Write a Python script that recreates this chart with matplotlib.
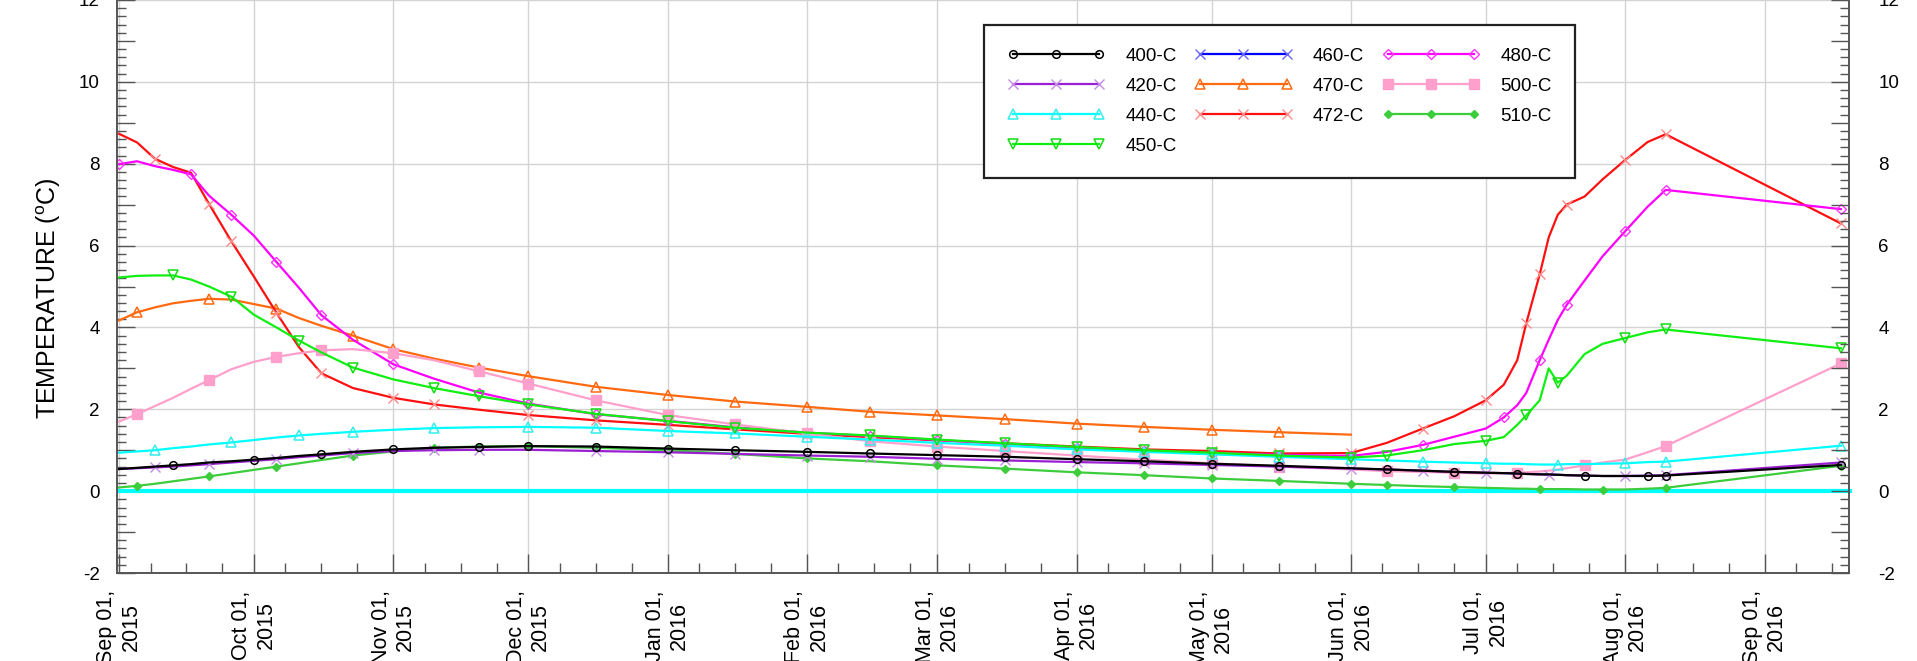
import matplotlib
matplotlib.use('Agg')
import matplotlib.pyplot as plt
import matplotlib.dates as mdates
from matplotlib.ticker import MultipleLocator, FuncFormatter
from matplotlib.lines import Line2D
import numpy as np

plt.rcParams['font.family'] = ['Liberation Sans', 'DejaVu Sans']
plt.rcParams['mathtext.default'] = 'regular'

nan = np.nan

dates = ['2015-09-01', '2015-09-05', '2015-09-09', '2015-09-13', '2015-09-17',
         '2015-09-21', '2015-09-26', '2015-10-01', '2015-10-06', '2015-10-11',
         '2015-10-16', '2015-10-23', '2015-11-01', '2015-11-10', '2015-11-20',
         '2015-12-01', '2015-12-16', '2016-01-01', '2016-01-16', '2016-02-01',
         '2016-02-15', '2016-03-01', '2016-03-16', '2016-04-01', '2016-04-16',
         '2016-05-01', '2016-05-16', '2016-06-01', '2016-06-09', '2016-06-17',
         '2016-06-24', '2016-07-01', '2016-07-05', '2016-07-08', '2016-07-10',
         '2016-07-13', '2016-07-15', '2016-07-17', '2016-07-19', '2016-07-23',
         '2016-07-27', '2016-08-01', '2016-08-06', '2016-08-10', '2016-09-18']

t400 = [0.54, 0.57, 0.6, 0.63, 0.66, 0.7, 0.73, 0.77, 0.81, 0.86,
        0.9, 0.96, 1.02, 1.06, 1.08, 1.1, 1.09, 1.04, 1.0, 0.96,
        0.92, 0.88, 0.84, 0.78, 0.73, 0.67, 0.62, 0.56, 0.53, 0.5,
        0.47, 0.45, 0.44, 0.43, 0.42, 0.41, 0.41, 0.4, 0.39, 0.38,
        0.37, 0.37, 0.37, 0.38, 0.64]
t420 = [0.54, 0.56, 0.58, 0.6, 0.63, 0.66, 0.7, 0.74, 0.78, 0.83,
        0.87, 0.93, 0.98, 1.0, 1.01, 1.01, 0.98, 0.95, 0.91, 0.87,
        0.84, 0.79, 0.75, 0.71, 0.68, 0.64, 0.6, 0.55, 0.53, 0.5,
        0.47, 0.45, 0.44, 0.43, 0.42, 0.41, 0.4, 0.4, 0.39, 0.38,
        0.37, 0.37, 0.38, 0.39, 0.70]
t440 = [0.94, 0.97, 1.0, 1.05, 1.09, 1.14, 1.19, 1.25, 1.31, 1.36,
        1.4, 1.45, 1.5, 1.54, 1.56, 1.57, 1.55, 1.47, 1.41, 1.33,
        1.26, 1.18, 1.11, 1.02, 0.96, 0.9, 0.84, 0.78, 0.75, 0.72,
        0.7, 0.68, 0.67, 0.67, 0.66, 0.65, 0.65, 0.65, 0.66, 0.66,
        0.67, 0.68, 0.71, 0.72, 1.11]
t450 = [5.22, 5.26, 5.27, 5.27, 5.17, 5.0, 4.75, 4.31, 4.0, 3.68,
        3.39, 3.02, 2.73, 2.52, 2.32, 2.12, 1.89, 1.71, 1.55, 1.43,
        1.36, 1.26, 1.17, 1.08, 1.0, 0.94, 0.87, 0.82, 0.87, 1.0,
        1.15, 1.23, 1.32, 1.62, 1.85, 2.22, 3.0, 2.65, 2.82, 3.35,
        3.6, 3.74, 3.88, 3.95, 3.49]
t460 = []  # listed in the legend, no data in view
t470 = [4.17, 4.37, 4.49, 4.59, 4.65, 4.7, 4.68, 4.57, 4.46, 4.23,
        4.04, 3.8, 3.47, 3.24, 3.02, 2.81, 2.55, 2.35, 2.19, 2.06,
        1.94, 1.85, 1.76, 1.65, 1.57, 1.5, 1.44, 1.38, nan, nan,
        nan, nan, nan, nan, nan, nan, nan, nan, nan, nan,
        nan, nan, nan, nan, nan]
t472 = [8.73, 8.52, 8.12, 7.92, 7.78, 7.02, 6.1, 5.24, 4.36, 3.52,
        2.88, 2.52, 2.28, 2.12, 1.99, 1.86, 1.73, 1.62, 1.51, 1.40,
        1.32, 1.24, 1.17, 1.09, 1.02, 0.98, 0.92, 0.93, 1.18, 1.53,
        1.83, 2.22, 2.6, 3.2, 4.1, 5.3, 6.2, 6.75, 7.0, 7.2,
        7.62, 8.09, 8.53, 8.72, 6.54]
t480 = [7.99, 8.06, 7.94, 7.85, 7.74, 7.22, 6.75, 6.24, 5.6, 4.97,
        4.3, 3.7, 3.1, 2.75, 2.41, 2.14, 1.88, 1.72, 1.56, 1.43,
        1.35, 1.25, 1.15, 1.06, 0.98, 0.93, 0.89, 0.86, 0.96, 1.13,
        1.33, 1.53, 1.8, 2.1, 2.4, 3.2, 3.7, 4.18, 4.55, 5.15,
        5.74, 6.35, 6.95, 7.36, 6.89]
t500 = [1.7, 1.88, 2.08, 2.28, 2.5, 2.71, 2.98, 3.16, 3.28, 3.37,
        3.44, 3.47, 3.37, 3.2, 2.93, 2.63, 2.22, 1.86, 1.63, 1.41,
        1.22, 1.09, 0.98, 0.87, 0.77, 0.68, 0.6, 0.53, 0.49, 0.47,
        0.45, 0.43, 0.44, 0.45, 0.46, 0.48, 0.5, 0.53, 0.56, 0.63,
        0.7, 0.77, 0.95, 1.1, 3.12]
t510 = [0.09, 0.13, 0.18, 0.24, 0.3, 0.36, 0.44, 0.52, 0.6, 0.68,
        0.76, 0.87, 0.97, 1.06, 1.09, 1.1, 1.06, 1.0, 0.91, 0.8,
        0.73, 0.63, 0.55, 0.46, 0.39, 0.31, 0.25, 0.18, 0.15, 0.12,
        0.1, 0.08, 0.07, 0.06, 0.06, 0.05, 0.05, 0.05, 0.05, 0.04,
        0.04, 0.04, 0.06, 0.08, 0.62]

zero_dates = ['2015-09-01', '2016-09-20']
zero_vals = [0, 0]

labels = ['400-C', '420-C', '440-C', '450-C', '460-C',
          '470-C', '472-C', '480-C', '500-C', '510-C']
values = [t400, t420, t440, t450, t460, t470, t472, t480, t500, t510]

styles = [
    dict(color='black', marker='o', mfc='none', mec='black', ms=5.5, mew=1.1),
    dict(color='#9b1fd2', marker='x', mec='#c58ae8', ms=6.5, mew=1.0),
    dict(color='#00ffff', marker='^', mfc='none', mec='#33eeee', ms=6.5, mew=1.1),
    dict(color='#11ee11', marker='v', mfc='none', mec='#11dd11', ms=6.5, mew=1.1),
    dict(color='#0000ff', marker='x', mec='#6666ff', ms=6.5, mew=1.0),
    dict(color='#ff6a10', marker='^', mfc='none', mec='#ff6a10', ms=6.5, mew=1.1),
    dict(color='#ff1010', marker='x', mec='#ff8a8a', ms=6.5, mew=1.0),
    dict(color='#ff00ff', marker='D', mfc='none', mec='#ff33ff', ms=5, mew=1.0),
    dict(color='#ff9fcc', marker='s', mfc='#ff9fcc', mec='#ff9fcc', ms=6.5),
    dict(color='#3ccc3c', marker='D', mfc='#3ccc3c', mec='#3ccc3c', ms=4),
]
mark_start = [0.032, 0.0155, 0.021, 0.026, 0.0, 0.009, 0.019, 0.0, 0.0105, 0.0095]
zorders = [6, 5, 4, 4, 3, 3, 3, 3, 3, 3]

fig = plt.figure(figsize=(19.17, 6.61), dpi=100)
ax = fig.add_axes([117 / 1917, 1 - 573 / 661, (1849 - 117) / 1917, 573 / 661])

x = np.array(dates, dtype='datetime64[D]')
ax.plot(np.array(zero_dates, dtype='datetime64[D]'), zero_vals,
        color='#00ffff', lw=3, zorder=2, clip_on=False)

handles = []
for lab, vals, st, ms0, zo in zip(labels, values, styles, mark_start, zorders):
    if len(vals):
        ax.plot(x, vals, lw=1.6, markevery=(ms0, 0.0385), zorder=zo, **st)
    handles.append(Line2D([], [], lw=1.6, label=lab, **st))

# grid
for v in range(-2, 13, 2):
    ax.axhline(v, color='#d4d4d4', lw=1, zorder=0)
ax.xaxis.set_major_locator(mdates.MonthLocator())
ax.xaxis.set_minor_locator(mdates.DayLocator(bymonthday=[8, 16, 24]))
ax.xaxis.set_major_formatter(mdates.DateFormatter('%b %d,\n%Y'))
ax.grid(axis='x', which='major', color='#d4d4d4', lw=1, zorder=0)
ax.set_axisbelow(True)

ax.set_xlim(np.datetime64('2015-08-31T13:00'), np.datetime64('2016-09-19T19:00'))

tick_col = '#555555'
ytick_fmt = FuncFormatter(lambda v, p: f'{v:g}' if round(v) % 2 == 0 else '')

# right-hand temperature scale
ax2 = ax.twinx()
for a, pad in [(ax, 12.5), (ax2, 21)]:
    a.set_ylim(-2, 12)
    a.yaxis.set_major_locator(MultipleLocator(1))
    a.yaxis.set_minor_locator(MultipleLocator(0.2))
    a.yaxis.set_major_formatter(ytick_fmt)
    a.tick_params(axis='y', which='both', direction='in', color=tick_col, labelsize=13.5)
    a.tick_params(axis='y', which='major', length=13, width=1, pad=pad)
    a.tick_params(axis='y', which='minor', length=6.5, width=1)
    for side in ['left', 'right', 'bottom']:
        a.spines[side].set_color(tick_col)
        a.spines[side].set_linewidth(1.2)
    a.spines['top'].set_visible(False)
ax.tick_params(axis='y', which='both', right=False)

ax.tick_params(axis='x', which='both', direction='in', color=tick_col, top=False)
ax.tick_params(axis='x', which='major', length=14, width=1, pad=12.5, labelsize=15.5)
ax.tick_params(axis='x', which='minor', length=7, width=1)
for lbl in ax.get_xticklabels():
    lbl.set_rotation(90)
    lbl.set_multialignment('center')

ax.set_ylabel('TEMPERATURE ($^{o}$C)', fontsize=18)
ax.yaxis.set_label_coords(-0.031, 0.48)

leg = ax2.legend(handles=handles, ncol=3, loc='upper left',
                 bbox_to_anchor=(0.5006, 0.957), borderaxespad=0,
                 fontsize=13.5, numpoints=3,
                 handlelength=5.2, handletextpad=1.1, columnspacing=0.96,
                 borderpad=1.24, labelspacing=0.68, fancybox=False, framealpha=1)
leg.get_frame().set_edgecolor('#222222')
leg.get_frame().set_linewidth(1.6)
leg.set_zorder(10)

fig.savefig('out.png', dpi=100)
